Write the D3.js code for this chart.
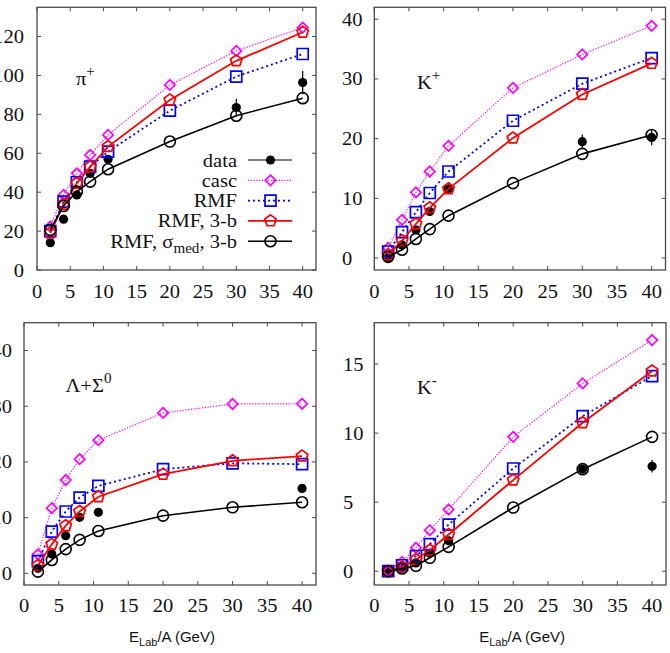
<!DOCTYPE html>
<html>
<head>
<meta charset="utf-8">
<script src="https://cdn.jsdelivr.net/npm/d3@7"></script>
<style>
  html, body { margin: 0; padding: 0; background: #fff; }
  svg { display: block; }
</style>
</head>
<body>
<svg id="chart" width="670" height="653"></svg>
<script>
// ---------- data ----------
const energies = [2, 4, 6, 8, 10.7, 20, 30, 40];
const xTicks = [0, 5, 10, 15, 20, 25, 30, 35, 40];

// pi+
const piCasc   = [22.3, 38.6, 49.7, 59.1, 69.4, 95.1, 112.6, 124.6];
const piRMF    = [20.0, 35.1, 45.1, 53.1, 60.8, 81.9, 99.4, 111.0];
const piRMF3b  = [19.0, 33.8, 44.6, 53.0, 63.4, 87.4, 107.5, 122.2];
const piSigma  = [20.6, 32.9, 40.3, 45.4, 51.8, 66.0, 79.3, 88.3];
const piDataE  = [2, 4, 6, 8, 10.7, 30, 40];
const piData   = [14.0, 26.1, 38.6, 49.7, 56.9, 83.5, 96.3];
const piDataErr= [0.5, 0.8, 1.0, 1.2, 1.5, 4.5, 6.0];
const piYTicks = [0, 20, 40, 60, 80, 100, 120];

// K+
const kpCasc   = [1.7, 6.4, 11.0, 14.5, 18.8, 28.5, 34.1, 38.9];
const kpRMF    = [1.1, 4.35, 7.7, 10.9, 14.5, 23.0, 29.2, 33.5];
const kpRMF3b  = [0.55, 2.9, 5.7, 8.4, 11.6, 20.1, 27.4, 32.6];
const kpSigma  = [0.2, 1.4, 3.2, 4.85, 7.1, 12.55, 17.45, 20.6];
const kpDataE  = [2, 4, 6, 8, 10.7, 30, 40];
const kpData   = [0.1, 2.2, 4.7, 7.8, 11.6, 19.5, 20.2];
const kpDataErr= [0.05, 0.2, 0.3, 0.4, 0.5, 1.2, 1.3];
const kpYTicks = [0, 10, 20, 30, 40];

// Lambda + Sigma0
const laCasc   = [3.4, 11.7, 16.75, 20.5, 23.9, 28.8, 30.4, 30.45];
const laRMF    = [2.2, 7.5, 11.1, 13.6, 15.7, 18.7, 19.75, 19.6];
const laRMF3b  = [1.4, 5.2, 8.55, 11.1, 13.75, 17.8, 20.2, 21.05];
const laSigma  = [0.3, 2.4, 4.35, 6.0, 7.6, 10.35, 11.85, 12.75];
const laDataE  = [2, 4, 6, 8, 10.7, 40];
const laData   = [0.9, 3.45, 6.75, 10.05, 10.95, 15.25];
const laDataErr= [0.1, 0.3, 0.4, 0.5, 0.5, 0.6];
const laYTicks = [0, 10, 20, 30, 40];

// K-
const kmCasc   = [0.0, 0.67, 1.7, 2.97, 4.47, 9.73, 13.6, 16.74];
const kmRMF    = [0.0, 0.43, 1.1, 1.96, 3.38, 7.44, 11.23, 14.13];
const kmRMF3b  = [0.0, 0.31, 0.85, 1.52, 2.66, 6.6, 10.75, 14.5];
const kmSigma  = [0.0, 0.19, 0.39, 0.97, 1.76, 4.61, 7.39, 9.73];
const kmDataE  = [2, 4, 6, 8, 10.7, 30, 40];
const kmData   = [0.0, 0.2, 0.6, 1.3, 2.2, 7.4, 7.6];
const kmDataErr= [0.01, 0.02, 0.05, 0.08, 0.1, 0.25, 0.45];
const kmYTicks = [0, 5, 10, 15];

const legendLabels = ["data", "casc", "RMF", "RMF, 3-b", "RMF, σmed, 3-b"];
const xTitle = "E_Lab/A (GeV)";

// ---------- styles ----------
const SERIF = "'Liberation Serif', 'Times New Roman', serif";
const SANS = "'Liberation Sans', Arial, sans-serif";
const FS = 19, SX = 1.08;
const frameColor = "#4a4a4a";

const styles = {
  casc:  { color: "#ff00ff", width: 1.2, dash: "1.2,1.6", marker: "diamond" },
  rmf:   { color: "#0000ff", width: 1.8, dash: "2,3",     marker: "square" },
  rmf3b: { color: "#ff0000", width: 1.8, dash: null,      marker: "pentagon" },
  sigma: { color: "#000000", width: 1.6, dash: null,      marker: "circle" },
  data:  { color: "#000000", width: 1.1, dash: null,      marker: "filled" }
};

function markerPath(type) {
  if (type === "diamond") { const r = 5.2; return `M0,${-r}L${r},0L0,${r}L${-r},0Z`; }
  if (type === "square") { const h = 5.5; return `M${-h},${-h}H${h}V${h}H${-h}Z`; }
  if (type === "pentagon") {
    const r = 6; let p = "";
    for (let i = 0; i < 5; i++) {
      const a = -Math.PI / 2 + i * 2 * Math.PI / 5;
      p += (i ? "L" : "M") + (r * Math.cos(a)).toFixed(2) + "," + (r * Math.sin(a)).toFixed(2);
    }
    return p + "Z";
  }
  if (type === "circle") { const r = 5.5; return `M${r},0A${r},${r} 0 1,1 ${-r},0A${r},${r} 0 1,1 ${r},0Z`; }
  const r = 4.6; return `M${r},0A${r},${r} 0 1,1 ${-r},0A${r},${r} 0 1,1 ${r},0Z`;
}

function drawMarker(g, type, x, y, st) {
  const p = g.append("path").attr("d", markerPath(type)).attr("transform", `translate(${x},${y})`);
  if (type === "filled") p.attr("fill", "#000").attr("stroke", "none");
  else p.attr("fill", "none").attr("stroke", st.color).attr("stroke-width", type === "circle" ? 1.6 : 1.7);
}

function serifText(g, x, y, anchor) {
  return g.append("text")
    .attr("transform", `translate(${x},${y}) scale(${SX},1)`)
    .attr("text-anchor", anchor)
    .attr("font-family", SERIF).attr("font-size", FS).attr("fill", "#111");
}

const svg = d3.select("#chart");

const panels = [
  { px: [37, 316], py: [7.3, 270], ydom: [0, 135], yTicks: piYTicks, yLab: { x: 24, anchor: "end" },
    series: { casc: piCasc, rmf: piRMF, rmf3b: piRMF3b, sigma: piSigma },
    dataE: piDataE, data: piData, err: piDataErr, xLabY: 298, title: null, legend: true,
    label: { main: "π", sup: "+", x: 76, y: 85 } },
  { px: [374.3, 665.5], py: [7.3, 270], ydom: [-2, 42], yTicks: kpYTicks, yLab: { x: 342, anchor: "start" },
    series: { casc: kpCasc, rmf: kpRMF, rmf3b: kpRMF3b, sigma: kpSigma },
    dataE: kpDataE, data: kpData, err: kpDataErr, xLabY: 298, title: null,
    label: { main: "K", sup: "+", x: 417, y: 89 } },
  { px: [24, 316], py: [322.7, 585], ydom: [-2.1, 45], yTicks: laYTicks, yLab: { x: 12, anchor: "end" },
    series: { casc: laCasc, rmf: laRMF, rmf3b: laRMF3b, sigma: laSigma },
    dataE: laDataE, data: laData, err: laDataErr, xLabY: 612, title: true,
    label: { main: "Λ+Σ", sup: "0", x: 65.5, y: 392 } },
  { px: [374.3, 666], py: [322.7, 585], ydom: [-1, 18], yTicks: kmYTicks, yLab: { x: 343, anchor: "start" },
    series: { casc: kmCasc, rmf: kmRMF, rmf3b: kmRMF3b, sigma: kmSigma },
    dataE: kmDataE, data: kmData, err: kmDataErr, xLabY: 612, title: true,
    label: { main: "K", sup: "-", x: 417, y: 394 } }
];

panels.forEach(P => {
  const x = d3.scaleLinear().domain([0, 42]).range(P.px);
  const y = d3.scaleLinear().domain(P.ydom).range([P.py[1], P.py[0]]);
  const g = svg.append("g");
  const [xl, xr] = P.px, [yt, yb] = P.py;
  const tl = 4;

  // ticks (mirrored, inward)
  const ticks = g.append("g").attr("stroke", frameColor).attr("stroke-width", 1);
  xTicks.forEach(t => {
    const xx = x(t);
    ticks.append("line").attr("x1", xx).attr("x2", xx).attr("y1", yb).attr("y2", yb - tl);
    ticks.append("line").attr("x1", xx).attr("x2", xx).attr("y1", yt).attr("y2", yt + tl);
  });
  P.yTicks.forEach(t => {
    const yy = y(t);
    ticks.append("line").attr("x1", xl).attr("x2", xl + tl).attr("y1", yy).attr("y2", yy);
    ticks.append("line").attr("x1", xr).attr("x2", xr - tl).attr("y1", yy).attr("y2", yy);
  });

  // tick labels
  xTicks.forEach(t => serifText(g, x(t), P.xLabY, "middle").text(t));
  P.yTicks.forEach(t => serifText(g, P.yLab.x, y(t) + 6.5, P.yLab.anchor).text(t));

  // data (drawn first)
  const dg = g.append("g");
  P.dataE.forEach((e, i) => {
    const xx = x(e);
    dg.append("line").attr("x1", xx).attr("x2", xx)
      .attr("y1", y(P.data[i] - P.err[i])).attr("y2", y(P.data[i] + P.err[i]))
      .attr("stroke", "#000").attr("stroke-width", 1.2);
    drawMarker(dg, "filled", xx, y(P.data[i]), styles.data);
  });

  // model curves
  ["casc", "rmf", "rmf3b", "sigma"].forEach(key => {
    const st = styles[key];
    const vals = P.series[key];
    const line = d3.line().x((d, i) => x(energies[i])).y(d => y(d));
    const path = g.append("path").datum(vals).attr("d", line)
      .attr("fill", "none").attr("stroke", st.color).attr("stroke-width", st.width);
    if (st.dash) path.attr("stroke-dasharray", st.dash);
    vals.forEach((v, i) => drawMarker(g, st.marker, x(energies[i]), y(v), st));
  });

  // frame
  g.append("rect").attr("x", xl).attr("y", yt).attr("width", xr - xl).attr("height", yb - yt)
    .attr("fill", "none").attr("stroke", frameColor).attr("stroke-width", 1.3);

  // panel label
  const lt = serifText(g, P.label.x, P.label.y, "start");
  lt.append("tspan").text(P.label.main);
  lt.append("tspan").attr("dy", -9).attr("font-size", 14).text(P.label.sup);

  // axis title
  if (P.title) {
    const parts = xTitle.split("_");
    const rest = parts[1].slice(3);
    const tt = g.append("text").attr("x", (xl + xr) / 2 + 2).attr("y", 642)
      .attr("text-anchor", "middle").attr("font-family", SANS).attr("font-size", 15).attr("fill", "#111");
    tt.append("tspan").text(parts[0]);
    tt.append("tspan").attr("dy", 4).attr("font-size", 11).text(parts[1].slice(0, 3));
    tt.append("tspan").attr("dy", -4).text(rest);
  }

  // legend
  if (P.legend) {
    const keys = ["data", "casc", "rmf", "rmf3b", "sigma"];
    keys.forEach((k, i) => {
      const cy = 160 + i * 20.3;
      const st = styles[k];
      const t = serifText(g, 237, cy + 6.5, "end");
      const lab = legendLabels[i];
      if (lab.includes("σmed")) {
        const [a, b] = lab.split("σmed");
        t.append("tspan").text(a + "σ");
        t.append("tspan").attr("dy", 5).attr("font-size", 14).text("med");
        t.append("tspan").attr("dy", -5).text(b);
      } else t.text(lab);
      const ln = g.append("line").attr("x1", 248).attr("x2", 292).attr("y1", cy).attr("y2", cy)
        .attr("stroke", st.color).attr("stroke-width", st.width);
      if (st.dash) ln.attr("stroke-dasharray", st.dash);
      drawMarker(g, st.marker, 270.5, cy, st);
    });
  }
});
</script>
</body>
</html>
